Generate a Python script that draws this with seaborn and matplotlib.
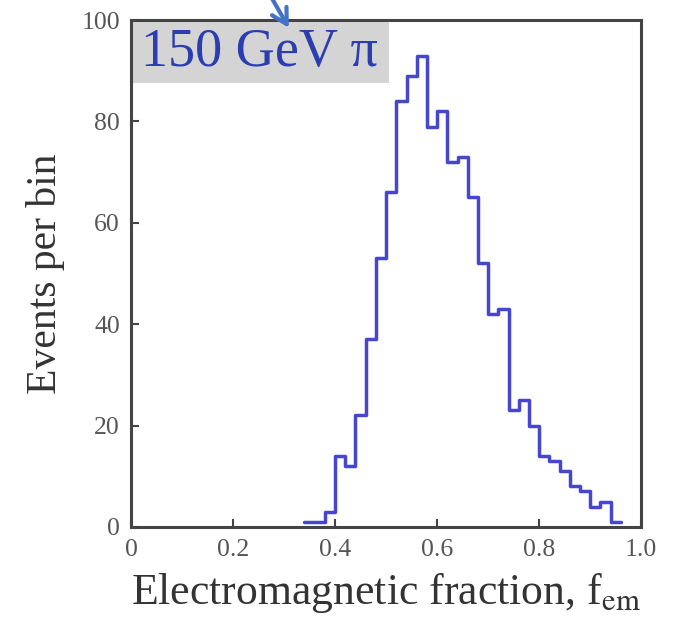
import numpy as np
import pandas as pd
import matplotlib
matplotlib.use("Agg")
import matplotlib.pyplot as plt
from matplotlib.patches import Rectangle
import seaborn as sns

# Histogram of the electromagnetic fraction for 150 GeV pions
bin_start = 0.34
bin_width = 0.02
counts = [1, 1, 3, 14, 12, 22, 37, 53, 66, 84, 89, 93, 79, 82, 72, 73,
          65, 52, 42, 43, 23, 25, 20, 14, 13, 11, 8, 7, 4, 5, 1]
x_ticks = [0, 0.2, 0.4, 0.6, 0.8, 1.0]
x_tick_labels = ["0", "0.2", "0.4", "0.6", "0.8", "1.0"]
y_ticks = [0, 20, 40, 60, 80, 100]
y_tick_labels = ["0", "20", "40", "60", "80", "100"]
label_text = "150 GeV \u03c0"

edges = np.round(bin_start + bin_width * np.arange(len(counts) + 1), 4)
centers = (edges[:-1] + edges[1:]) / 2
df = pd.DataFrame({"fem": centers, "n": counts})

sns.set_theme(style="ticks")
plt.rcParams["font.family"] = ["Liberation Serif", "DejaVu Serif"]
plt.rcParams["mathtext.fontset"] = "stix"

fig = plt.figure(figsize=(6.73, 6.28), dpi=100)
ax = fig.add_axes([0.1947, 0.161, 0.758, 0.807])

line_color = "#4646cf"
sns.histplot(data=df, x="fem", weights="n", bins=edges.tolist(),
             element="step", fill=False, color=line_color, linewidth=2.5,
             ax=ax)

ax.set_xlim(0, 1.0)
ax.set_ylim(0, 100)
ax.set_xticks(x_ticks)
ax.set_xticklabels(x_tick_labels)
ax.set_yticks(y_ticks)
ax.set_yticklabels(y_tick_labels)

spine_color = "#444444"
for s in ax.spines.values():
    s.set_visible(True)
    s.set_color(spine_color)
    s.set_linewidth(2.2)

ax.tick_params(axis="both", direction="in", length=6, width=1.5,
               color=spine_color, labelcolor="#555555", labelsize=18.5)
ax.tick_params(axis="x", pad=9)
ax.tick_params(axis="y", pad=8)

ax.set_xlabel("Electromagnetic fraction, f$_{\\mathrm{em}}$", fontsize=31.5,
              color="#333333", labelpad=7)
ax.set_ylabel("Events per bin", fontsize=30, color="#333333", labelpad=12)

# Gray label box in the upper-left corner
ax.add_patch(Rectangle((0, 87.5), 0.505, 12.5, facecolor="#d4d4d4",
                       edgecolor="none", zorder=0.5))
ax.text(0.02, 93.5, label_text, fontsize=39, color="#2b3db0",
        ha="left", va="center")

# Pointer arrow entering from above
ax.annotate("", xy=(0.312, 98.0), xytext=(0.258, 107.5),
            xycoords="data", textcoords="data", annotation_clip=False,
            arrowprops=dict(arrowstyle="->,head_length=0.9,head_width=0.5",
                            color="#4472c4", lw=3.0))

fig.savefig("out.png", dpi=100)
